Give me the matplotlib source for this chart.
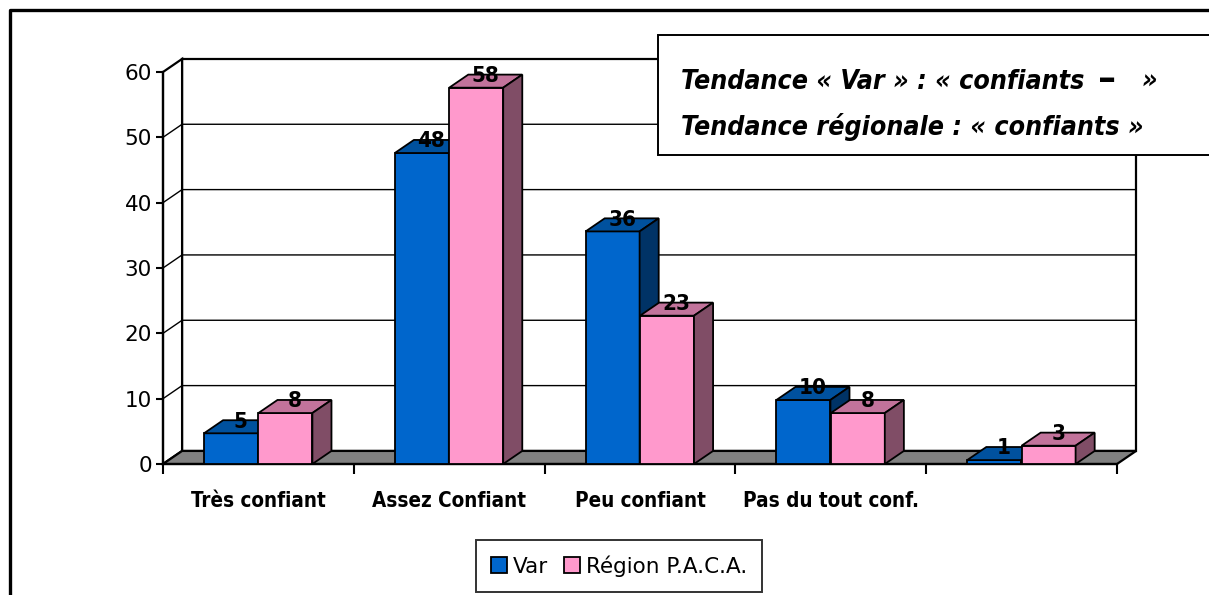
import matplotlib
matplotlib.use("Agg")
import matplotlib.pyplot as plt
from matplotlib.patches import Polygon, Rectangle, Patch
from matplotlib.lines import Line2D
from matplotlib import font_manager

# ---- data ----
categories = ["Très confiant", "Assez Confiant", "Peu confiant", "Pas du tout conf.", ""]
var_values = [4.7, 47.6, 35.6, 9.8, 0.6]
paca_values = [7.8, 57.6, 22.7, 7.8, 2.8]
series_names = ["Var", "Région P.A.C.A."]
y_ticks = [0, 10, 20, 30, 40, 50, 60]
note_lines = ["Tendance « Var » : « confiants", "Tendance régionale : « confiants »"]

# ---- fonts ----
faces = [(f.name, f.stretch) for f in font_manager.fontManager.ttflist]
if ("DejaVu Sans", "condensed") in faces:
    cond = dict(family="DejaVu Sans", fontstretch="condensed")
elif any(n == "DejaVu Sans Condensed" for n, s in faces):
    cond = dict(family="DejaVu Sans Condensed")
elif any(n == "Liberation Sans Narrow" for n, s in faces):
    cond = dict(family="Liberation Sans Narrow")
else:
    cond = dict(family="Archivo Narrow")

W, H = 1209, 595
fig = plt.figure(figsize=(W / 100, H / 100), dpi=100)
fig.patch.set_facecolor("white")
renderer = fig.canvas.get_renderer()


def width(t):
    return t.get_window_extent(renderer).width


def fit(t, target):
    t.set_fontsize(t.get_fontsize() * target / width(t))


var_cols = ("#0066CC", "#00519E", "#003366")      # front, top, side
paca_cols = ("#FF99CC", "#C2739B", "#804D66")

ax = fig.add_axes([163 / W, 1 - 464 / H, (1117 - 163) / W, (464 - 72) / H])
ax.set_xlim(0, 5)
ax.set_ylim(0, 60)
for s in ax.spines.values():
    s.set_visible(False)
ax.patch.set_visible(False)

dx, dy = 0.1, 2.0
n = len(categories)
lw = 1.3

# back wall
ax.add_patch(Polygon([(dx, dy), (n + dx, dy), (n + dx, 60 + dy), (dx, 60 + dy)],
                     closed=True, facecolor="white", edgecolor="black", lw=1.6, clip_on=False, zorder=1))
# left wall
ax.add_patch(Polygon([(0, 0), (dx, dy), (dx, 60 + dy), (0, 60)],
                     closed=True, facecolor="white", edgecolor="black", lw=1.6, clip_on=False, zorder=1))
for v in y_ticks[1:-1]:
    ax.plot([0, dx, n + dx], [v, v + dy, v + dy], color="black", lw=1.0, clip_on=False, zorder=1.5)
# floor
ax.add_patch(Polygon([(0, 0), (n, 0), (n + dx, dy), (dx, dy)],
                     closed=True, facecolor="#808080", edgecolor="black", lw=1.6, clip_on=False, zorder=2))
ax.plot([0, 0], [0, 60], color="black", lw=1.6, clip_on=False, zorder=2)
ax.plot([0, n], [0, 0], color="black", lw=1.6, clip_on=False, zorder=2)


def bar3d(x0, w, h, cols, z):
    front, top, side = cols
    ax.add_patch(Polygon([(x0, 0), (x0 + w, 0), (x0 + w, h), (x0, h)], closed=True,
                         facecolor=front, edgecolor="black", lw=lw, clip_on=False, zorder=z))
    ax.add_patch(Polygon([(x0, h), (x0 + w, h), (x0 + w + dx, h + dy), (x0 + dx, h + dy)], closed=True,
                         facecolor=top, edgecolor="black", lw=lw, clip_on=False, zorder=z))
    ax.add_patch(Polygon([(x0 + w, 0), (x0 + w + dx, dy), (x0 + w + dx, h + dy), (x0 + w, h)], closed=True,
                         facecolor=side, edgecolor="black", lw=lw, clip_on=False, zorder=z))


bw = 0.283
z = 3
for i in range(n):
    bar3d(i + 0.215, bw, var_values[i], var_cols, z)
    z += 0.1
    bar3d(i + 0.5, bw, paca_values[i], paca_cols, z)
    z += 0.1

labels = []
for i in range(n):
    for x0, v in ((i + 0.215, var_values[i]), (i + 0.5, paca_values[i])):
        labels.append(ax.text(x0 + bw / 2 + dx / 2, v + dy - 0.2, f"{v:.0f}", ha="center", va="center",
                              fontsize=17, fontweight="bold", zorder=10, clip_on=False, **cond))
two = [t for t in labels if len(t.get_text()) == 2][0]
fit(two, 28)
for t in labels:
    t.set_fontsize(two.get_fontsize())

# ticks
ax.set_yticks(y_ticks)
ax.set_yticklabels([str(t) for t in y_ticks], fontsize=15.5, family="DejaVu Sans")
ax.tick_params(axis="y", length=5, width=1.5, pad=3, direction="out")
ax.set_xticks(range(n + 1))
ax.set_xticklabels([])
ax.tick_params(axis="x", length=7, width=1.5, direction="out")

cat_texts = []
for i, c in enumerate(categories):
    cat_texts.append(ax.text(i + 0.5, -37 / 392, c, transform=ax.get_xaxis_transform(), ha="center",
                             va="center", fontsize=13, fontweight="bold", **cond))
fit(cat_texts[0], 135)
for t in cat_texts[1:]:
    t.set_fontsize(cat_texts[0].get_fontsize())

# outer frame
fig.add_artist(Line2D([10 / W, 10 / W, 1.01], [-0.01, 1 - 10 / H, 1 - 10 / H],
                      transform=fig.transFigure, color="black", lw=2.4))

# annotation box
fig.add_artist(Rectangle((658 / W, 1 - 155 / H), (1215 - 658) / W, 120 / H, transform=fig.transFigure,
                         facecolor="white", edgecolor="black", lw=1.4, zorder=20))
t1 = fig.text(681 / W, 1 - 82 / H, note_lines[0], fontsize=15, fontweight="bold", style="italic",
              va="center", ha="left", zorder=21, **cond)
t2 = fig.text(681 / W, 1 - 127 / H, note_lines[1], fontsize=15, fontweight="bold",
              style="italic", va="center", ha="left", zorder=21, **cond)
fs = 15 * (413 + 455) / (width(t1) + width(t2))
t1.set_fontsize(fs)
t2.set_fontsize(fs)
fig.text(1098 / W, 1 - 80 / H, "\u2013", fontsize=26, fontweight="bold",
         family="DejaVu Sans", va="center", ha="left", zorder=21)
fig.text(1142 / W, 1 - 82 / H, "»", fontsize=fs, fontweight="bold", style="italic",
         va="center", ha="left", zorder=21, **cond)

# legend
handles = [Patch(facecolor=var_cols[0], edgecolor="black", lw=1.3),
           Patch(facecolor=paca_cols[0], edgecolor="black", lw=1.3)]
leg = fig.legend(handles, series_names, loc="center", bbox_to_anchor=(619 / W, 1 - 566 / H),
                 ncol=2, frameon=True, fancybox=False, edgecolor="black",
                 handlelength=0.75, handleheight=0.75, handletextpad=0.3, columnspacing=0.7,
                 borderpad=0.7, prop={"family": "DejaVu Sans", "size": 15.5})
leg.get_frame().set_linewidth(1.4)

fig.savefig("out.png", dpi=100)
